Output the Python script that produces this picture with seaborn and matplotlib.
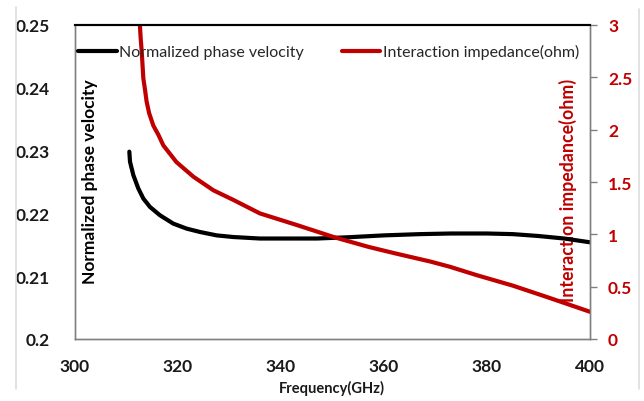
import matplotlib
matplotlib.use("Agg")
import matplotlib.pyplot as plt
import seaborn as sns
import pandas as pd
from matplotlib.lines import Line2D

# ---- data ----
freq_v = [310.55, 310.68, 311.33, 312.3, 313.27, 314.56, 316.5, 319.09, 321.7,
          324.27, 327.5, 330.7, 335.9, 340, 347, 353, 360, 367, 373, 380, 385,
          390, 395, 400]
phase_velocity = [0.22983, 0.22823, 0.22609, 0.22396, 0.22236, 0.22103, 0.21970,
                  0.21837, 0.21757, 0.21704, 0.2165, 0.21624, 0.2160, 0.2160,
                  0.2160, 0.2162, 0.2165, 0.2167, 0.2168, 0.2168, 0.2167,
                  0.2164, 0.2160, 0.2154]

freq_z = [312.6, 312.75, 312.95, 313.27, 313.6, 313.9, 314.4, 315.2, 316.2,
          317.15, 319.7, 323, 326.9, 330.7, 335.9, 343, 350.5, 357, 362, 369,
          372.8, 378, 385, 392, 400]
impedance = [3.0, 2.875, 2.75, 2.49, 2.38, 2.27, 2.157, 2.04, 1.95, 1.85, 1.69,
             1.55, 1.42, 1.33, 1.20, 1.09, 0.97, 0.88, 0.82, 0.74, 0.69, 0.61,
             0.51, 0.395, 0.26]

x_ticks = [300, 320, 340, 360, 380, 400]
left_ticks = [0.2, 0.21, 0.22, 0.23, 0.24, 0.25]
left_labels = ["0.2", "0.21", "0.22", "0.23", "0.24", "0.25"]
right_ticks = [0, 0.5, 1, 1.5, 2, 2.5, 3]
right_labels = ["0", "0.5", "1", "1.5", "2", "2.5", "3"]

label_v = "Normalized phase velocity"
label_z = "Interaction impedance(ohm)"
x_label = "Frequency(GHz)"

RED = "#C00000"

sns.set_theme(style="white")
plt.rcParams["font.family"] = ["Lato", "DejaVu Sans"]

df_v = pd.DataFrame({"f": freq_v, "v": phase_velocity})
df_z = pd.DataFrame({"f": freq_z, "z": impedance})

fig = plt.figure(figsize=(6.44, 4.02), dpi=100)
ax = fig.add_axes([75 / 644, 1 - 340 / 402, (590 - 75) / 644, (340 - 26) / 402])
ax2 = ax.twinx()

sns.lineplot(data=df_v, x="f", y="v", ax=ax, color="black", linewidth=3.0,
             label=label_v, legend=False)
sns.lineplot(data=df_z, x="f", y="z", ax=ax2, color=RED, linewidth=3.0,
             label=label_z, legend=False)

ax.set_xlim(300, 400)
ax.set_ylim(0.2, 0.25)
ax2.set_ylim(0, 3)

ax.set_xticks(x_ticks)
ax.set_xticklabels([str(t) for t in x_ticks])
ax.set_yticks(left_ticks)
ax.set_yticklabels(left_labels)
ax2.set_yticks(right_ticks)
ax2.set_yticklabels(right_labels)

ax.set_xlabel("")
ax.set_ylabel("")
ax2.set_ylabel("")

for a in (ax, ax2):
    for s in a.spines.values():
        s.set_color("#808080")
        s.set_linewidth(1.0)
    a.spines["top"].set_color("black")
    a.spines["top"].set_linewidth(1.5)

ax.tick_params(axis="x", length=0, pad=14, labelsize=12.5, labelcolor="#1a1a1a")
ax.tick_params(axis="y", length=0, pad=18, labelsize=12.5, labelcolor="#1a1a1a")
ax2.tick_params(axis="y", length=5, width=1, color="#808080", direction="out",
                pad=8, labelsize=12.5, labelcolor=RED)
for lab in ax.get_xticklabels() + ax.get_yticklabels() + ax2.get_yticklabels():
    lab.set_fontweight("bold")

fig.text(332 / 644, 1 - 388 / 402, x_label, ha="center", va="center",
         fontsize=10.5, fontweight="bold", color="#1a1a1a")

ax.text(90 / 644, 1 - 182 / 402, label_v, transform=fig.transFigure,
        rotation=90, ha="center", va="center", fontsize=12.5,
        fontweight="bold", color="black")
ax.text(568 / 644, 1 - 190 / 402, label_z, transform=fig.transFigure,
        rotation=90, ha="center", va="center", fontsize=12.8,
        fontweight="bold", color=RED, zorder=1)

handles = [Line2D([], [], color="black", lw=3.0), Line2D([], [], color=RED, lw=3.0)]
leg = ax2.legend(handles, [label_v, label_z], loc="center left",
                 bbox_to_anchor=(0.0, 0.915), ncol=2, frameon=False,
                 fontsize=11.5, handlelength=2.4, handletextpad=0.15,
                 columnspacing=2.4, borderaxespad=0.2, borderpad=0)
for t in leg.get_texts():
    t.set_color("#262626")

fig.add_artist(Line2D([16 / 644, 16 / 644], [1 - 390 / 402, 1 - 8 / 402],
                      color="#dddddd", lw=1.2, transform=fig.transFigure))
fig.add_artist(Line2D([639 / 644, 639 / 644], [1 - 390 / 402, 1 - 10 / 402],
                      color="#dddddd", lw=1.2, transform=fig.transFigure))

fig.savefig("out.png", dpi=100)
